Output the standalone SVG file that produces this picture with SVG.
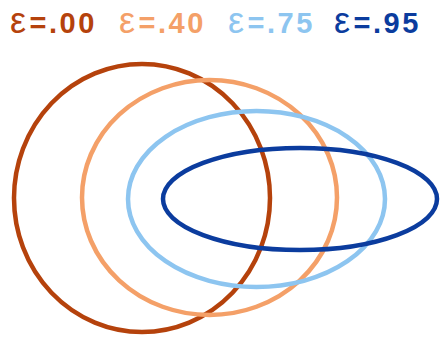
<svg xmlns="http://www.w3.org/2000/svg" width="441" height="339" viewBox="0 0 441 339">
<style>
.lbl{font-family:"Liberation Sans","Open Sans",sans-serif;font-weight:bold;font-size:29px;letter-spacing:2.5px}
.eps{font-weight:normal;font-size:36px;letter-spacing:3.5px}
.orb{fill:none;stroke-width:4.5}
</style>
<rect width="441" height="339" fill="#fff"/>
<g id="labels">
<text class="lbl" x="10" y="33" fill="#B5420C"><tspan class="eps">ε</tspan>=.00</text>
<text class="lbl" x="119" y="33" fill="#F4A068"><tspan class="eps">ε</tspan>=.40</text>
<text class="lbl" x="228" y="33" fill="#8DC5F0"><tspan class="eps">ε</tspan>=.75</text>
<text class="lbl" x="334" y="33" fill="#0B3C9E"><tspan class="eps">ε</tspan>=.95</text>
</g>
<g id="e00"><ellipse class="orb" cx="142" cy="198" rx="128" ry="134" stroke="#B5420C"/></g>
<g id="e40"><ellipse class="orb" cx="209.5" cy="197.5" rx="127.5" ry="117.5" stroke="#F4A068"/></g>
<g id="e75"><ellipse class="orb" cx="256.5" cy="199" rx="128.5" ry="88" stroke="#8DC5F0"/></g>
<g id="e95"><ellipse class="orb" cx="300" cy="199" rx="137" ry="51" stroke="#0B3C9E"/></g>
</svg>
